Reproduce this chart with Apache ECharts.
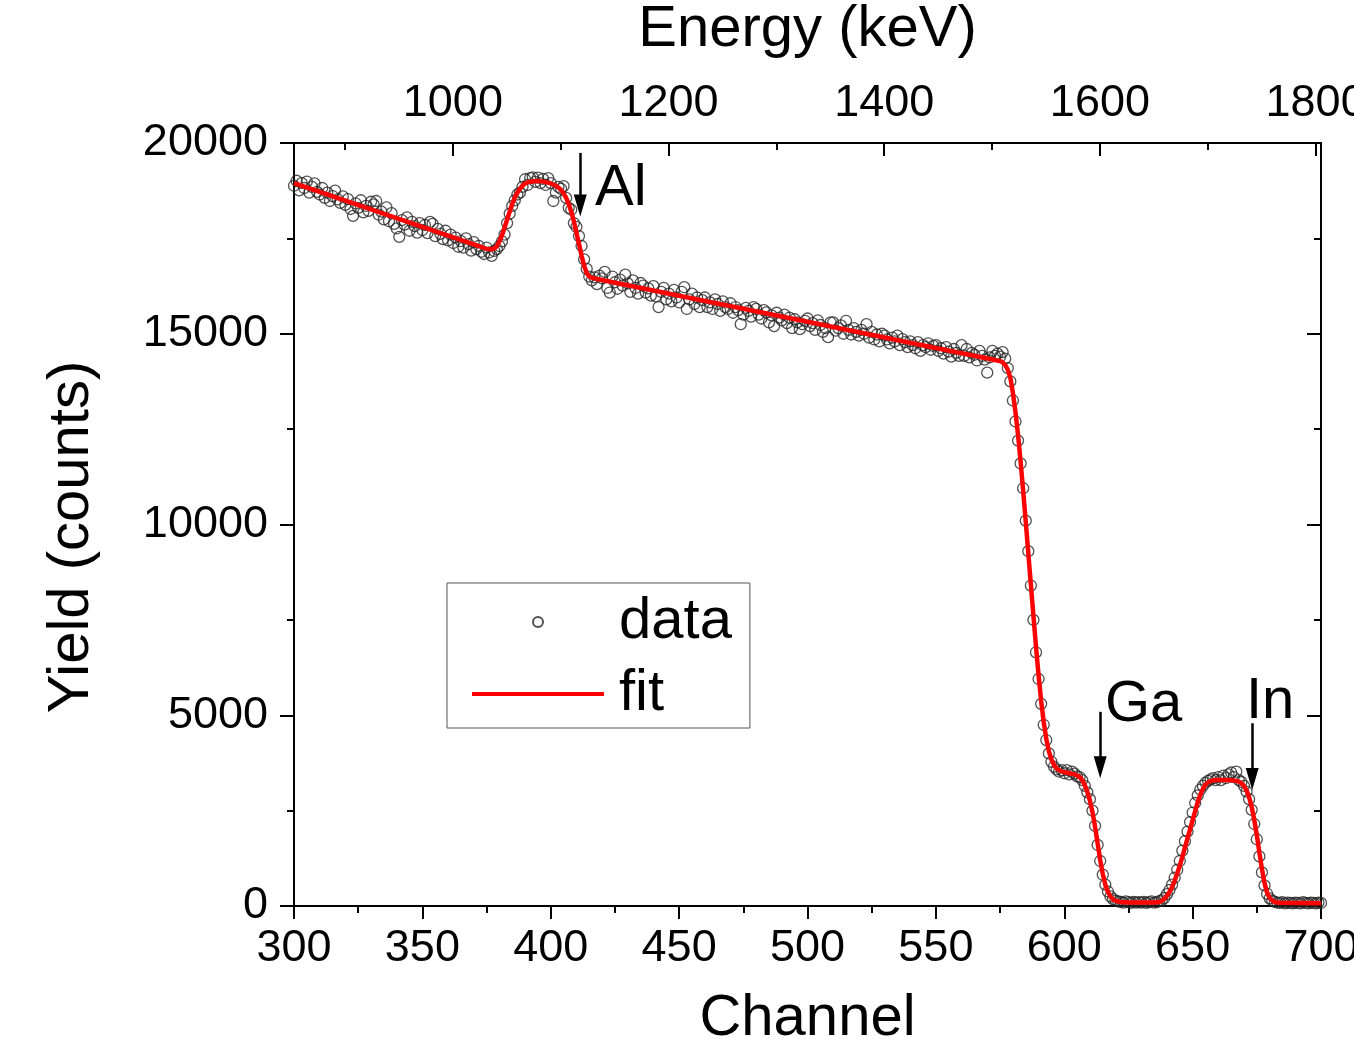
<!DOCTYPE html>
<html>
<head>
<meta charset="utf-8">
<title>RBS spectrum</title>
<script src="https://cdn.jsdelivr.net/npm/echarts@6/dist/echarts.min.js"></script>
<style>
  html, body { margin: 0; padding: 0; background: #fff; }
  #chart { width: 1354px; height: 1055px; }
</style>
</head>
<body>
<div id="chart"></div>
<script>
// 测量数据：通道从 300 开始，每个通道一个点
var chStart = 300;
var yields = [
  18880, 19010, 18760, 18950, 18820, 18990, 18700, 18850, 18940, 18720,
  18650, 18820, 18560, 18700, 18480, 18610, 18750, 18520, 18430, 18600,
  18380, 18530, 18270, 18090, 18420, 18300, 18500, 18180, 18350, 18220,
  18460, 18390, 18480, 18120, 18200, 18000, 18310, 17950, 18160, 17880,
  17760, 17540, 17980, 17860, 18050, 17700, 17930, 17820, 17650, 17900,
  17720, 17850, 17640, 17930, 17880, 17560, 17750, 17620, 17480, 17700,
  17450, 17600, 17380, 17520, 17280, 17430, 17260, 17500, 17350, 17180,
  17400, 17220, 17300, 17150, 17090, 17260, 17130, 17040, 17170, 17220,
  17300, 17420, 17600, 17900, 18150, 18350, 18500, 18650, 18700, 18850,
  19050, 18900, 19080, 19100, 18980, 19090, 18950, 19060, 18900, 19080,
  18950, 18480, 18700, 18850, 18800, 18870, 18560, 18300, 18250, 17900,
  17800, 17560, 17300, 16950, 16700, 16500, 16400, 16480, 16300, 16520,
  16450, 16620, 16200, 16080, 16500, 16350, 16180, 16420, 16260, 16550,
  16320, 16100, 16400, 16200, 16050, 16330, 16260, 16080, 16190, 16000,
  16250, 15980, 15700, 16100, 16200, 15900, 16050, 15850, 16150, 15950,
  15820, 16100, 16220, 15650, 15900, 16050, 15780, 15950, 15700, 15880,
  15950, 15700, 15820, 15650, 15900, 15780, 15600, 15850, 15700, 15650,
  15800, 15550, 15700, 15620, 15250, 15500, 15680, 15600, 15450, 15700,
  15650, 15500, 15400, 15620, 15560, 15300, 15480, 15200, 15550, 15420,
  15350, 15500, 15280, 15420, 15150, 15380, 15300, 15120, 15250, 15340,
  15400, 15200, 15280, 15100, 15350, 15230, 15050, 15150, 14910, 15300,
  15300, 15080, 15150, 15220, 15000, 15340, 15100, 14980, 15150, 15050,
  14950, 15100, 15000, 15250, 14900, 15050, 14850, 14980, 14800, 15000,
  14950, 14850, 14750, 14900, 14800, 14950, 14700, 14860, 14780, 14650,
  14800, 14700, 14620, 14780, 14550, 14700, 14650, 14750, 14580, 14680,
  14700, 14550, 14620, 14480, 14650, 14530, 14400, 14600, 14500, 14420,
  14700, 14420, 14600, 14380, 14500, 14450, 14300, 14550, 14420, 14320,
  13980, 14380, 14550, 14420, 14480, 14400, 14520, 14350, 14100, 13750,
  13250, 12700, 12200, 11600, 10950, 10100, 9300, 8400, 7500, 6650,
  5950, 5300, 4750, 4350, 4000, 3780, 3650, 3580, 3520, 3560,
  3480, 3560, 3450, 3520, 3470, 3400, 3380, 3300, 3150, 2980,
  2800, 2500, 2100, 1600, 1180, 820, 560, 380, 250, 180,
  140, 120, 110, 90, 120, 100, 80, 110, 90, 100,
  90, 110, 80, 100, 120, 90, 100, 130, 150, 210,
  310, 420, 560, 740, 950, 1180, 1450, 1700, 1950, 2200,
  2450, 2700, 2900, 3050, 3150, 3230, 3280, 3320, 3350, 3300,
  3380, 3300, 3420, 3350, 3450, 3500, 3380, 3520, 3300, 3250,
  3150, 3000, 2800, 2520, 2150, 1750, 1300, 880, 540, 320,
  200, 140, 110, 90, 80, 100, 70, 90, 80, 70,
  90, 80, 70, 100, 80, 70, 90, 80, 70, 90,
  80
];

// 拟合曲线（通道，计数）
var fitCh = [
  300, 310, 320, 330, 340, 350, 360, 370, 375, 377, 378, 379, 380, 381, 382, 383, 384, 385,
  386, 387, 388, 389, 390, 392, 394, 396, 398, 400, 402, 403, 404, 405, 406, 407, 408, 409,
  410, 411, 412, 413, 414, 415, 416, 417, 450, 500, 550, 574, 575, 576, 577, 578, 579, 580,
  581, 582, 583, 584, 585, 586, 587, 588, 589, 590, 591, 592, 593, 594, 595, 596, 597, 598,
  599, 600, 602, 604, 605, 606, 607, 608, 609, 610, 611, 612, 613, 614, 615, 616, 617, 618,
  619, 620, 622, 625, 635, 637, 638, 639, 640, 641, 642, 643, 644, 645, 646, 647, 648, 649,
  650, 651, 652, 653, 654, 655, 656, 657, 658, 660, 663, 665, 667, 668, 669, 670, 671, 672,
  673, 674, 675, 676, 677, 678, 679, 680, 681, 682, 684, 700
];
var fitY = [
  18950, 18720, 18490, 18260, 18030, 17800, 17570, 17340, 17225, 17210, 17230, 17300, 17420, 17580, 17780, 17990, 18200, 18400,
  18570, 18700, 18800, 18880, 18940, 18985, 19005, 19000, 18975, 18940, 18880, 18830, 18770, 18680, 18560, 18400, 18200, 17950,
  17650, 17350, 17050, 16780, 16590, 16500, 16470, 16450, 15998, 15313, 14628, 14299, 14285, 14250, 14180, 14060, 13850, 13450,
  12950, 12350, 11650, 10880, 10080, 9250, 8420, 7600, 6800, 6050, 5380, 4820, 4380, 4060, 3840, 3700, 3610, 3560,
  3530, 3510, 3480, 3450, 3420, 3380, 3300, 3170, 2990, 2760, 2460, 2080, 1640, 1210, 840, 560, 370, 250,
  175, 135, 105, 92, 92, 105, 135, 190, 270, 370, 500, 660, 850, 1060, 1290, 1530, 1770, 2010,
  2250, 2490, 2720, 2920, 3070, 3180, 3240, 3275, 3295, 3305, 3300, 3295, 3280, 3260, 3220, 3150, 3030, 2850,
  2600, 2260, 1860, 1400, 970, 600, 350, 215, 145, 105, 85, 75
];

// 能量轴（上轴）
var energyMin = 852.7;
var energyMax = 1805;
var energyTicks = [1000, 1200, 1400, 1600, 1800];
var energyMinorTicks = [900, 1100, 1300, 1500, 1700];

// 元素标注：箭头位置（通道、起止计数）
var markNames = ['Al', 'Ga', 'In'];
var markCh = [411.5, 614, 673.2];
var markTop = [19740, 5090, 4790];
var markTip = [18360, 3640, 3330];

var FONT = "'Liberation Sans', Arial, sans-serif";

var chart = echarts.init(document.getElementById('chart'));

var scatterData = yields.map(function (v, i) { return [chStart + i, v]; });
var fitData = fitCh.map(function (c, i) { return [c, fitY[i]]; });
var arrows = markCh.map(function (c, i) {
  return [{ coord: [c, markTop[i]] }, { coord: [c, markTip[i]] }];
});

var axisLine = { show: true, onZero: false, lineStyle: { color: '#000', width: 2 } };
var tickLine = { color: '#000', width: 2 };
var labelStyle = { color: '#000', fontSize: 45, fontFamily: FONT, formatter: function (v) { return String(v); } };
var nameStyle = { color: '#000', fontSize: 58, fontFamily: FONT };
var gridBox = { left: 294, right: 33, top: 143, bottom: 149, containLabel: false, outerBoundsMode: 'none' };

chart.setOption({
  animation: false,
  backgroundColor: '#fff',
  // 第二个 grid 只用来画上轴的小刻度
  grid: [Object.assign({}, gridBox), Object.assign({}, gridBox)],
  legend: {
    orient: 'vertical',
    left: 447,
    top: 583,
    data: [
      { name: 'data' },
      { name: 'fit', icon: 'path://M0,0H132V4H0Z' }
    ],
    itemWidth: 132,
    itemHeight: 10,
    itemGap: 14,
    padding: [10, 18, 5, 25],
    borderColor: '#555',
    borderWidth: 1,
    textStyle: { color: '#000', fontSize: 58, fontFamily: FONT, lineHeight: 58, padding: [0, 0, 0, 10] }
  },
  xAxis: [
    {
      type: 'value',
      gridIndex: 0,
      position: 'bottom',
      min: 300,
      max: 700,
      interval: 50,
      axisLine: axisLine,
      axisTick: { show: true, length: 13, lineStyle: tickLine },
      minorTick: { show: true, splitNumber: 2, length: 7, lineStyle: tickLine },
      axisLabel: Object.assign({ margin: 20, showMinLabel: true, showMaxLabel: true }, labelStyle),
      splitLine: { show: false },
      name: 'Channel',
      nameLocation: 'middle',
      nameGap: 84,
      nameTextStyle: nameStyle
    },
    {
      type: 'value',
      gridIndex: 0,
      position: 'top',
      min: energyMin,
      max: energyMax,
      axisLine: axisLine,
      axisTick: { show: true, inside: true, length: 13, customValues: energyTicks, lineStyle: tickLine },
      axisLabel: Object.assign({ margin: 17, customValues: energyTicks, showMaxLabel: true }, labelStyle),
      splitLine: { show: false },
      name: 'Energy (keV)',
      nameLocation: 'middle',
      nameGap: 84,
      nameTextStyle: nameStyle
    },
    {
      type: 'value',
      gridIndex: 1,
      position: 'top',
      min: energyMin,
      max: energyMax,
      axisLine: { show: false, onZero: false },
      axisTick: { show: true, inside: true, length: 7, customValues: energyMinorTicks, lineStyle: tickLine },
      axisLabel: { show: false },
      splitLine: { show: false }
    }
  ],
  yAxis: [
    {
      type: 'value',
      gridIndex: 0,
      position: 'left',
      min: 0,
      max: 20000,
      interval: 5000,
      axisLine: axisLine,
      axisTick: { show: true, length: 14, lineStyle: tickLine },
      minorTick: { show: true, splitNumber: 2, length: 7, lineStyle: tickLine },
      axisLabel: Object.assign({ margin: 26 }, labelStyle),
      splitLine: { show: false },
      name: 'Yield (counts)',
      nameLocation: 'middle',
      nameGap: 193,
      nameRotate: 90,
      nameTextStyle: Object.assign({ padding: [0, 25, 0, 0] }, nameStyle)
    },
    {
      type: 'value',
      gridIndex: 0,
      position: 'right',
      min: 0,
      max: 20000,
      interval: 5000,
      axisLine: axisLine,
      axisTick: { show: true, inside: true, length: 14, lineStyle: tickLine },
      minorTick: { show: true, splitNumber: 2, length: 7, lineStyle: tickLine },
      axisLabel: { show: false },
      splitLine: { show: false }
    },
    {
      type: 'value',
      gridIndex: 1,
      min: 0,
      max: 20000,
      show: false
    }
  ],
  series: [
    {
      name: 'data',
      type: 'scatter',
      xAxisIndex: 0,
      yAxisIndex: 0,
      symbol: 'circle',
      symbolSize: 11,
      itemStyle: { color: 'rgba(255,255,255,0)', borderColor: '#262626', borderWidth: 1.3 },
      data: scatterData,
      z: 2
    },
    {
      name: 'fit',
      type: 'line',
      xAxisIndex: 0,
      yAxisIndex: 0,
      showSymbol: false,
      symbol: 'none',
      lineStyle: { color: '#ff0000', width: 4.5 },
      itemStyle: { color: '#ff0000' },
      data: fitData,
      z: 3,
      markLine: {
        silent: true,
        symbol: ['none', 'triangle'],
        symbolSize: [13, 22],
        label: { show: false },
        lineStyle: { color: '#000', width: 2.5, type: 'solid' },
        itemStyle: { color: '#000' },
        emphasis: { disabled: true },
        data: arrows
      }
    }
  ],
  graphic: [
    { type: 'text', left: 595, top: 160, style: { text: markNames[0], font: '58px ' + FONT, fill: '#000' } },
    { type: 'text', left: 1105, top: 676, style: { text: markNames[1], font: '58px ' + FONT, fill: '#000' } },
    { type: 'text', left: 1246, top: 673, style: { text: markNames[2], font: '58px ' + FONT, fill: '#000' } }
  ]
});
</script>
</body>
</html>
